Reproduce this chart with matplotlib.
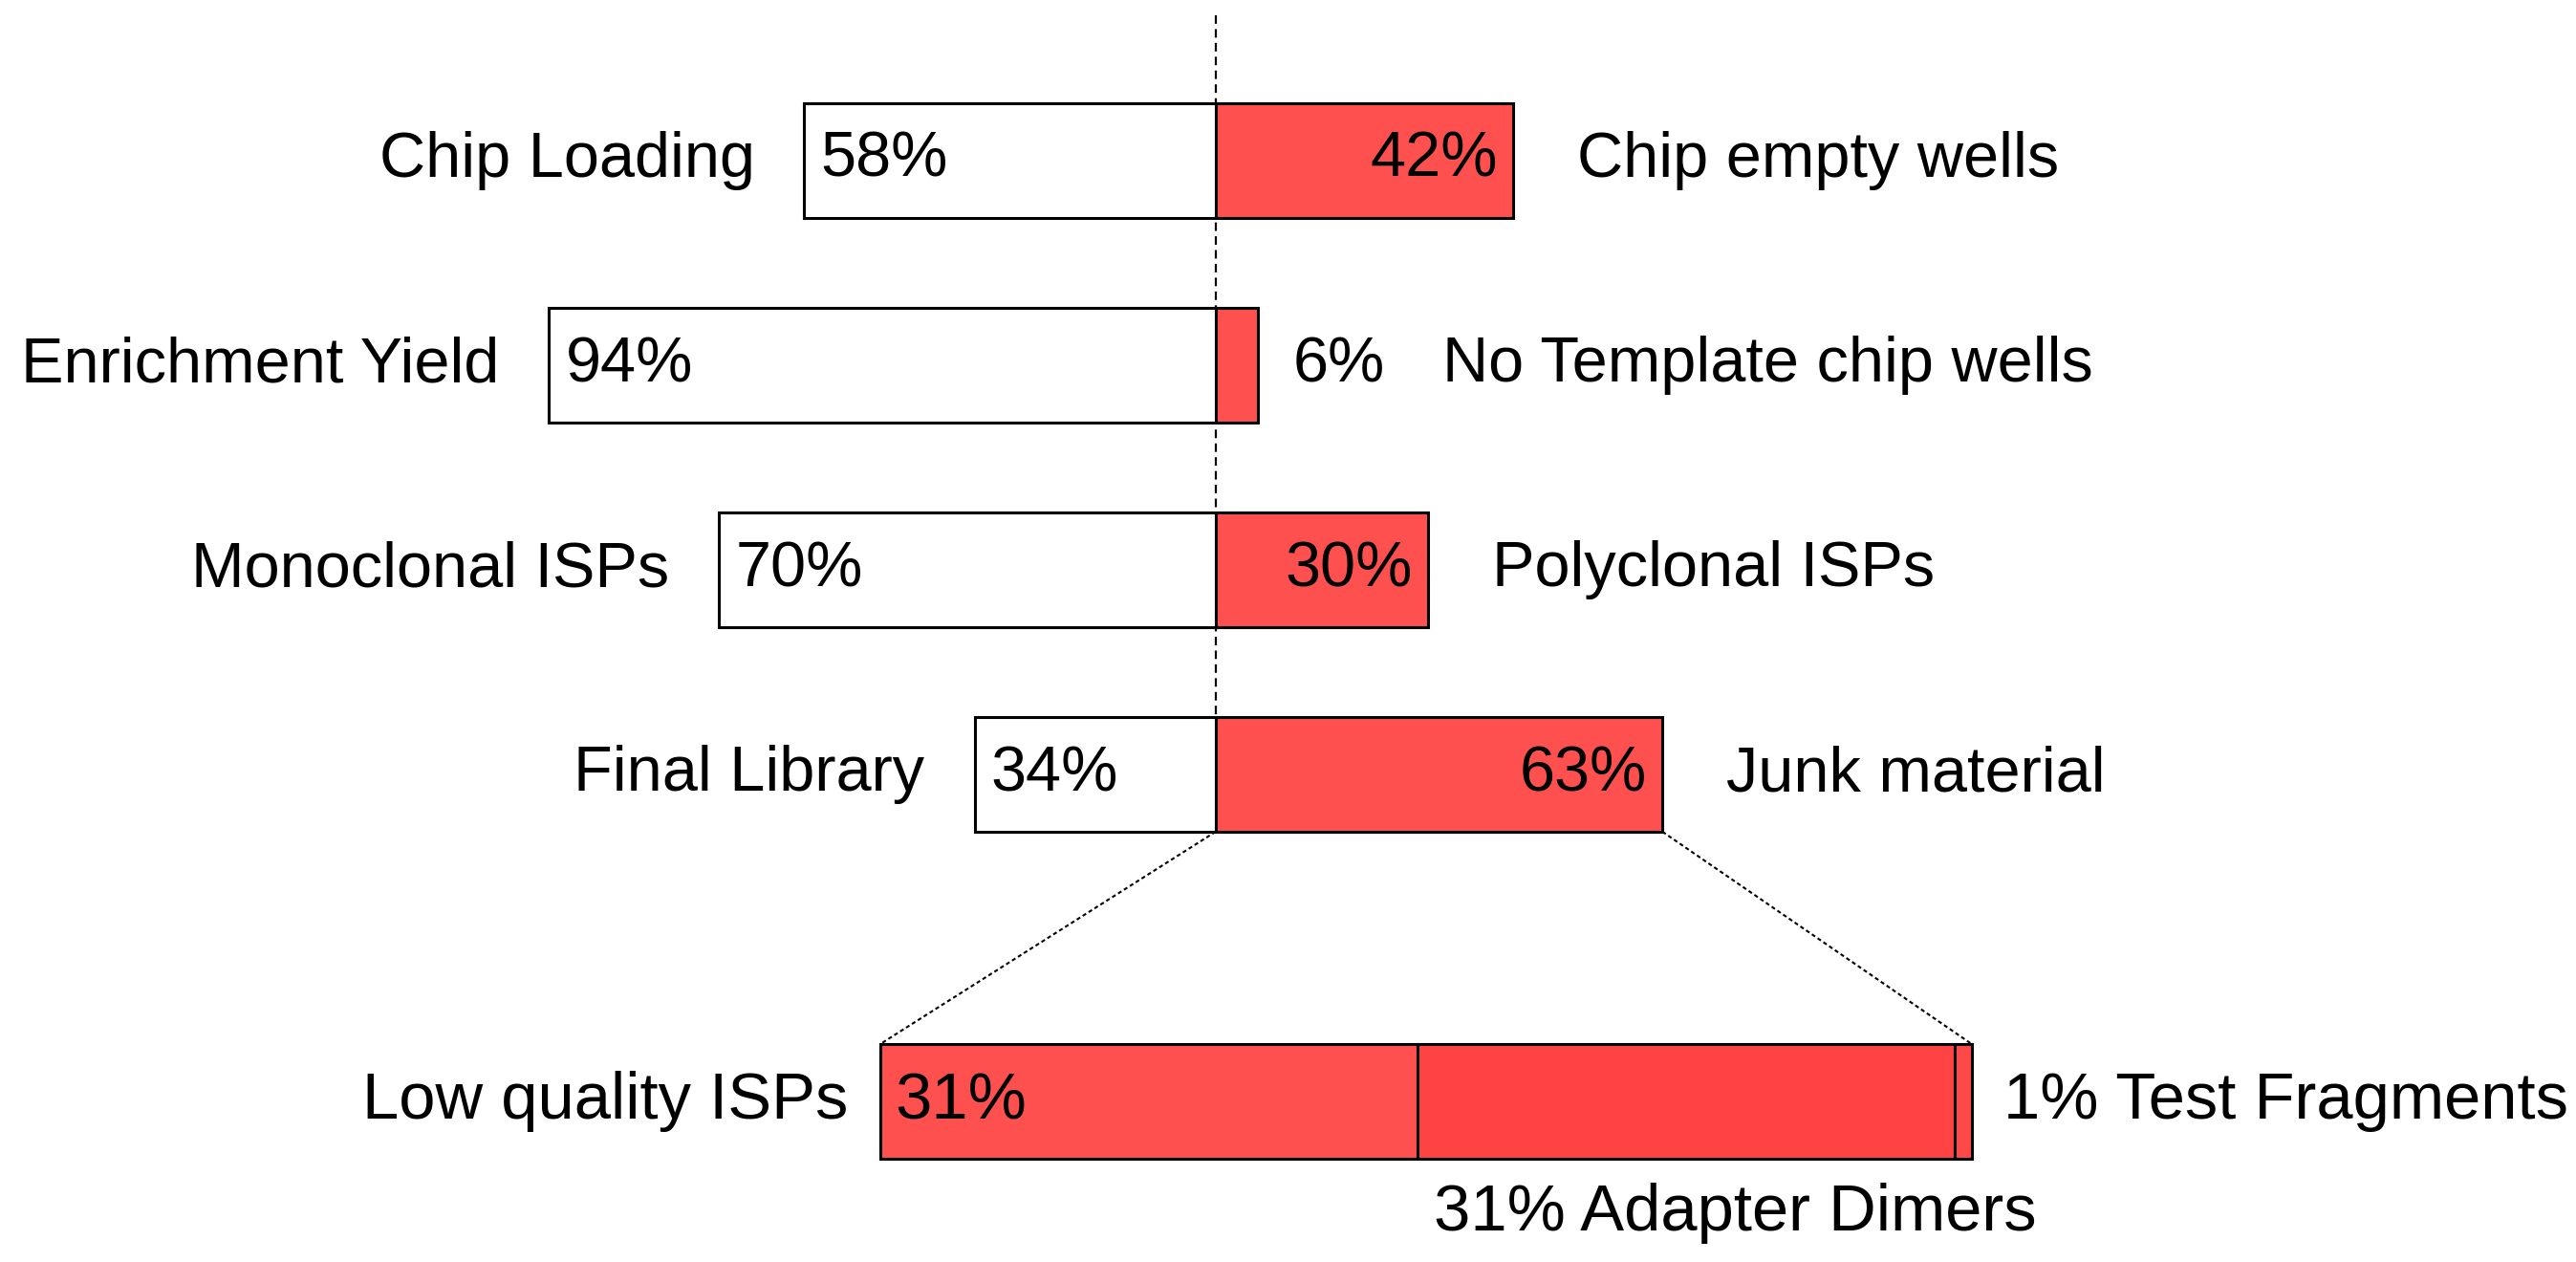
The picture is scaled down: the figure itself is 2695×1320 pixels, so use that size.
import numpy as np
from matplotlib import pyplot as plt

# top rows: pass (left, white) vs loss (right, red)
left_labels = ["Chip Loading", "Enrichment Yield", "Monoclonal ISPs", "Final Library"]
left_values = [58, 94, 70, 34]
right_labels = ["Chip empty wells", "No Template chip wells", "Polyclonal ISPs", "Junk material"]
right_values = [42, 6, 30, 63]

# breakdown of the junk material
junk_labels = ["Low quality ISPs", "Adapter Dimers", "Test Fragments"]
junk_values = [31, 31, 1]
junk_colors = ["#ff5050", "#ff4242", "#ff4848"]

RED = "#ff5050"
FS = 48
FS_B = 49.5
plt.rcParams["font.family"] = ["Liberation Sans", "DejaVu Sans"]

fig = plt.figure(figsize=(26.95, 13.2), dpi=100)
ax = fig.add_axes([0, 0, 1, 1])
ax.set_xlim(-171.4, 191.8)
ax.set_ylim(5.383, -0.785)
ax.axis("off")

h = 0.56
rows = np.arange(len(left_labels))

# centre dashed line
ax.plot([0, 0], [-0.71, rows[-1] - h / 2], color="black", lw=1.6,
        linestyle=(0, (4, 2.5)), zorder=1)

ax.barh(rows, [-v for v in left_values], height=h, color="white",
        edgecolor="black", lw=2.2, zorder=2)
ax.barh(rows, right_values, height=h, color=RED,
        edgecolor="black", lw=2.2, zorder=2)

for i in rows:
    lv, rv = left_values[i], right_values[i]
    ax.text(-lv - 7, i, left_labels[i], ha="right", va="center", fontsize=FS)
    ax.text(-lv + 2.3, i, f"{lv}%", ha="left", va="center", fontsize=FS)
    if rv >= 10:
        ax.text(rv - 2.2, i, f"{rv}%", ha="right", va="center", fontsize=FS)
        ax.text(rv + 9, i, right_labels[i], ha="left", va="center", fontsize=FS)
    else:
        ax.text(rv + 4.9, i, f"{rv}%", ha="left", va="center", fontsize=FS)
        ax.text(rv + 26, i, right_labels[i], ha="left", va="center", fontsize=FS)

# zoomed breakdown bar
yb = 4.598
x0 = -47.3
scale = 2.443
starts = x0 + scale * np.concatenate([[0], np.cumsum(junk_values)[:-1]])
widths = scale * np.array(junk_values)
ax.barh([yb] * len(junk_values), widths, left=starts, height=h,
        color=junk_colors, edgecolor="black", lw=2.2, zorder=2)
x1 = x0 + scale * sum(junk_values)

ax.text(x0 - 4.5, yb, junk_labels[0], ha="right", va="center", fontsize=FS_B)
ax.text(x0 + 2.1, yb, f"{junk_values[0]}%", ha="left", va="center", fontsize=FS_B)
ax.text(starts[1] + 2.3, yb + 0.545, f"{junk_values[1]}% {junk_labels[1]}",
        ha="left", va="center", fontsize=FS_B)
ax.text(x1 + 4.4, yb, f"{junk_values[2]}% {junk_labels[2]}",
        ha="left", va="center", fontsize=FS_B)

# connector lines from junk bar to breakdown
jv = right_values[-1]
ax.plot([0, x0], [rows[-1] + h / 2, yb - h / 2], color="black", lw=1.5,
        linestyle=(0, (2, 1.5)), zorder=1)
ax.plot([jv, x1], [rows[-1] + h / 2, yb - h / 2], color="black", lw=1.5,
        linestyle=(0, (2, 1.5)), zorder=1)

fig.savefig("out.png", dpi=100, facecolor="white")
